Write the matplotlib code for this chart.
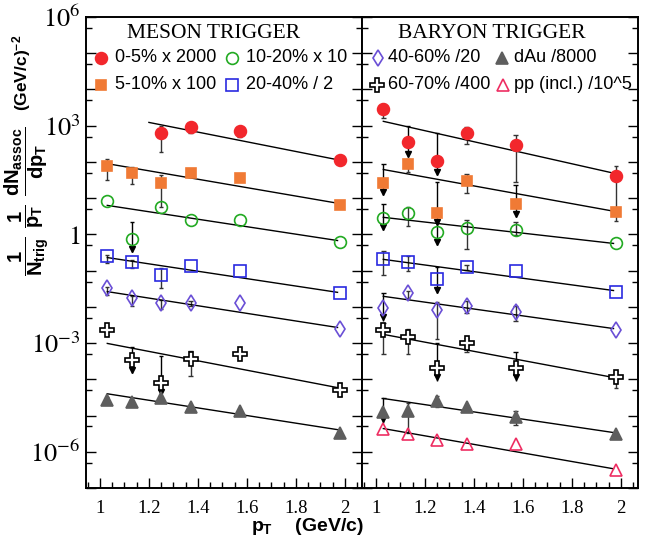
import numpy as np
import matplotlib
matplotlib.use('Agg')
import matplotlib.pyplot as plt
from matplotlib.ticker import LogLocator, FuncFormatter, MultipleLocator

plt.rcParams['mathtext.fontset'] = 'stix'
plt.rcParams['mathtext.rm'] = 'Liberation Sans:bold'
plt.rcParams['mathtext.it'] = 'Liberation Sans:bold'
plt.rcParams['mathtext.bf'] = 'Liberation Sans:bold'

nan = np.nan

# associated pT bins (GeV/c)
pt = [1.03, 1.13, 1.25, 1.37, 1.57, 1.98]

# all yields below are log10 of the scaled per-trigger yield
# ---- meson trigger ----
meson_vals = {
    'c0_5':   [nan, nan, 2.79, 2.96, 2.85, 2.05],
    'c5_10':  [1.88, 1.69, 1.41, 1.69, 1.55, 0.80],
    'c10_20': [0.91, -0.14, 0.75, 0.41, 0.39, -0.22],
    'c20_40': [-0.61, -0.77, -1.13, -0.86, -1.02, -1.63],
    'c40_60': [-1.49, -1.77, -1.90, -1.90, -1.90, -2.60],
    'c60_70': [-2.63, -3.46, -4.09, -3.43, -3.29, -4.29],
    'dau':    [-4.56, -4.62, -4.53, -4.76, -4.87, -5.47],
}
meson_lo = {
    'c0_5':   [nan, nan, 2.27, 2.79, 2.68, nan],
    'c5_10':  [1.49, 1.38, 0.75, nan, nan, nan],
    'c20_40': [-0.80, -0.92, -1.49, nan, nan, nan],
    'c40_60': [-1.66, -1.98, -2.05, -1.98, nan, nan],
    'c60_70': [-2.79, nan, nan, -3.90, nan, -4.45],
    'dau':    [-4.66, nan, nan, nan, nan, nan],
}
meson_hi = {
    'c0_5':   [nan, nan, 2.99, 3.07, 2.93, nan],
    'c5_10':  [2.07, 1.85, 1.63, nan, nan, nan],
    'c10_20': [nan, 0.33, nan, nan, nan, nan],
    'c20_40': [-0.58, -0.70, -0.94, nan, nan, nan],
    'c40_60': [-1.45, -1.70, -1.82, -1.85, nan, nan],
    'c60_70': [-2.55, -3.12, -3.37, -3.21, nan, -4.10],
    'dau':    [-4.50, nan, nan, nan, nan, nan],
}
# upper limits: where the arrow ends
meson_limit = {
    'c10_20': [nan, -0.50, nan, nan, nan, nan],
    'c60_70': [nan, -3.84, -4.45, nan, nan, nan],
}
# exponential fits: (pt start, pt end, log10 start, log10 end)
meson_fit = {
    'c0_5':   (1.20, 2.00, 3.09, 2.02),
    'c5_10':  (1.04, 1.97, 1.94, 0.86),
    'c10_20': (1.03, 1.97, 0.80, -0.17),
    'c20_40': (1.03, 1.97, -0.64, -1.60),
    'c40_60': (1.03, 1.97, -1.58, -2.57),
    'c60_70': (1.03, 1.97, -3.01, -4.23),
    'dau':    (1.03, 1.97, -4.40, -5.39),
}

# ---- baryon trigger ----
baryon_vals = {
    'c0_5':   [3.46, 2.54, 2.02, 2.79, 2.46, 1.60],
    'c5_10':  [1.41, 1.94, 0.58, 1.47, 0.83, 0.61],
    'c10_20': [0.44, 0.58, 0.06, 0.17, 0.11, -0.25],
    'c20_40': [-0.69, -0.75, -1.24, -0.91, -1.00, -1.58],
    'c40_60': [-2.02, -1.63, -2.10, -1.99, -2.13, -2.63],
    'c60_70': [-2.63, -2.82, -3.68, -2.99, -3.68, -3.95],
    'dau':    [-4.89, -4.87, -4.59, -4.76, -5.03, -5.50],
    'pp':     [-5.36, -5.50, -5.67, -5.78, -5.78, -6.50],
}
baryon_lo = {
    'c0_5':   [3.21, nan, nan, 2.49, 1.44, 0.65],
    'c5_10':  [nan, 1.72, nan, 1.13, nan, 0.36],
    'c10_20': [nan, 0.22, nan, -0.41, -0.03, nan],
    'c20_40': [-1.11, -1.00, nan, -0.99, nan, nan],
    'c40_60': [nan, -1.75, -2.88, -2.18, -2.38, nan],
    'c60_70': [-3.29, -3.29, nan, -3.26, nan, -4.23],
    'dau':    [nan, -5.47, -4.76, nan, -5.25, nan],
}
baryon_hi = {
    'c0_5':   [3.59, 2.99, 2.79, 2.96, 2.74, 1.88],
    'c5_10':  [1.94, 2.08, 1.45, 1.66, 1.35, nan],
    'c10_20': [0.83, 0.75, 0.41, 0.41, 0.33, nan],
    'c20_40': [-0.47, -0.61, -0.91, -0.85, nan, nan],
    'c40_60': [-1.63, -1.55, -1.88, -1.85, -1.99, nan],
    'c60_70': [-2.45, -2.60, -3.00, -2.85, -3.26, -3.76],
    'dau':    [-4.51, -4.65, -4.45, nan, -4.87, nan],
}
baryon_limit = {
    'c0_5':   [nan, 2.13, 1.63, nan, nan, nan],
    'c5_10':  [1.08, nan, 0.25, nan, 0.47, nan],
    'c10_20': [0.11, nan, -0.30, nan, nan, nan],
    'c20_40': [nan, nan, -1.63, nan, nan, nan],
    'c40_60': [-2.38, nan, nan, nan, nan, nan],
    'c60_70': [nan, nan, -4.04, nan, -4.04, nan],
    'dau':    [-5.20, nan, nan, nan, nan, nan],
}
baryon_fit = {
    'c0_5':   (1.03, 1.97, 3.12, 1.69),
    'c5_10':  (1.03, 1.97, 1.79, 0.64),
    'c10_20': (1.03, 1.97, 0.47, -0.25),
    'c20_40': (1.03, 1.97, -0.69, -1.55),
    'c40_60': (1.03, 1.97, -1.71, -2.60),
    'c60_70': (1.03, 1.97, -2.76, -3.95),
    'dau':    (1.03, 1.97, -4.53, -5.47),
    'pp':     (1.03, 1.97, -5.36, -6.47),
}

labels = {
    'c0_5': '0-5% x 2000', 'c5_10': '5-10% x 100',
    'c10_20': '10-20% x 10', 'c20_40': '20-40% / 2',
    'c40_60': '40-60% /20', 'c60_70': '60-70% /400',
    'dau': 'dAu /8000', 'pp': 'pp (incl.) /10^5',
}

# marker, edge color, face color, size
styles = {
    'c0_5':   ('o', '#f2272c', '#f2272c', 8.5),
    'c5_10':  ('s', '#f07a35', '#f07a35', 7.5),
    'c10_20': ('o', '#22aa22', 'none', 8.5),
    'c20_40': ('s', '#2a2ae0', 'none', 8.0),
    'c40_60': ('d', '#6a4fd6', 'none', 8.5),
    'c60_70': ('P', 'black', 'white', 9.5),
    'dau':    ('^', '#5e5e5e', '#5e5e5e', 8.0),
    'pp':     ('^', '#ee2d62', 'none', 8.5),
}

ERR_C = '#333333'
CAP = 0.009


def draw_panel(ax, vals, lo, hi, limit, fits):
    for key, yv in vals.items():
        yv = np.array(yv)
        ylo = np.array(lo.get(key, [nan] * 6))
        yhi = np.array(hi.get(key, [nan] * 6))
        ylim_ = np.array(limit.get(key, [nan] * 6))
        for x, v, l, h, a in zip(pt, yv, ylo, yhi, ylim_):
            if np.isnan(v):
                continue
            if not np.isnan(a):
                # upper limit: bar from the top error down to an arrow
                top = h if not np.isnan(h) else v
                ax.vlines(x, 10 ** a, 10 ** top, color='black', lw=1.0, zorder=2)
                ax.hlines(10 ** top, x - CAP, x + CAP, color='black', lw=1.0, zorder=2)
                ax.plot(x, 10 ** (a + 0.1), marker='v', color='black', ms=5, zorder=3)
                continue
            if np.isnan(l) and np.isnan(h):
                continue
            b = l if not np.isnan(l) else v
            t = h if not np.isnan(h) else v
            ax.vlines(x, 10 ** b, 10 ** t, color=ERR_C, lw=1.0, zorder=2)
            for end in (b, t):
                if end != v:
                    ax.hlines(10 ** end, x - CAP, x + CAP, color=ERR_C, lw=1.0, zorder=2)
        m, ec, fc, ms = styles[key]
        ax.plot(pt, 10 ** yv, ls='none', marker=m, mec=ec, mfc=fc, ms=ms,
                mew=1.2, zorder=4)
    for key, (x0, x1, y0, y1) in fits.items():
        ax.plot([x0, x1], [10 ** y0, 10 ** y1], color='black', lw=1.0, zorder=3)


def legend_entry(ax, xm, xt, y, key):
    m, ec, fc, ms = styles[key]
    ax.plot(xm, y, transform=ax.transAxes, marker=m, mec=ec, mfc=fc, ms=ms,
            mew=1.2, ls='none', clip_on=False)
    ax.text(xt, y, labels[key], transform=ax.transAxes, ha='left', va='center',
            fontsize=13, family='Liberation Sans')


def decade_fmt(v, pos):
    e = int(round(np.log10(v)))
    if e % 3:
        return ''
    if e == 0:
        return '$1$'
    return '$10^{%d}$' % e


fig = plt.figure(figsize=(6.46, 5.41), dpi=100)
ax1 = fig.add_axes([0.1331, 0.098, 0.4273, 0.8706])
ax2 = fig.add_axes([0.5604, 0.098, 0.4272, 0.8706])

for ax in (ax1, ax2):
    ax.set_yscale('log')
    ax.set_ylim(1e-7, 1e6)
    ax.set_xlim(0.943, 2.07)
    ax.yaxis.set_major_locator(LogLocator(base=10, subs=(1.0,), numticks=20))
    ax.yaxis.set_minor_locator(LogLocator(base=10, subs=(5.0,), numticks=20))
    ax.xaxis.set_major_locator(MultipleLocator(0.2))
    ax.xaxis.set_minor_locator(MultipleLocator(0.05))
    ax.tick_params(axis='both', which='both', direction='in', top=False,
                   left=True, right=True, width=1.0)
    ax.tick_params(which='major', length=7)
    ax.tick_params(which='minor', length=4)
    ax.tick_params(axis='x', labelsize=13.5, pad=9)
    for s in ax.spines.values():
        s.set_linewidth(1.4)
    ax.xaxis.set_major_formatter(FuncFormatter(lambda v, p: '%g' % v))
    for t in ax.get_xticklabels():
        t.set_family('Liberation Serif')

ax1.yaxis.set_major_formatter(FuncFormatter(decade_fmt))
ax1.tick_params(axis='y', labelsize=19, pad=4)
ax2.tick_params(axis='y', labelleft=False)

draw_panel(ax1, meson_vals, meson_lo, meson_hi, meson_limit, meson_fit)
draw_panel(ax2, baryon_vals, baryon_lo, baryon_hi, baryon_limit, baryon_fit)

ax1.text(0.462, 0.966, 'MESON TRIGGER', transform=ax1.transAxes, ha='center',
         va='center', fontsize=15.5, family='Liberation Serif')
ax2.text(0.469, 0.966, 'BARYON TRIGGER', transform=ax2.transAxes, ha='center',
         va='center', fontsize=15.5, family='Liberation Serif')

legend_entry(ax1, 0.054, 0.105, 0.913, 'c0_5')
legend_entry(ax1, 0.529, 0.580, 0.913, 'c10_20')
legend_entry(ax1, 0.054, 0.105, 0.856, 'c5_10')
legend_entry(ax1, 0.529, 0.580, 0.856, 'c20_40')
legend_entry(ax2, 0.058, 0.094, 0.913, 'c40_60')
legend_entry(ax2, 0.509, 0.551, 0.913, 'dau')
legend_entry(ax2, 0.054, 0.094, 0.856, 'c60_70')
legend_entry(ax2, 0.511, 0.551, 0.856, 'pp')

# y title: the fractions, then the units above them
fig.text(0.043, 0.628,
         r'$\dfrac{1}{N_{trig}}\;\,\dfrac{1}{p_{T}}\;\,\dfrac{dN_{assoc}}{dp_{T}}$',
         rotation=90, ha='center', va='center', fontsize=14.5,
         math_fontfamily='custom')
fig.text(0.034, 0.866, r'$(GeV/c)^{-2}$', rotation=90, ha='center',
         va='center', fontsize=12.5, math_fontfamily='custom')
fig.text(0.476, 0.027, r'$p_{T}\quad\ (GeV/c)$', ha='center', va='center',
         fontsize=14, math_fontfamily='custom')

fig.savefig('out.png', dpi=100)
